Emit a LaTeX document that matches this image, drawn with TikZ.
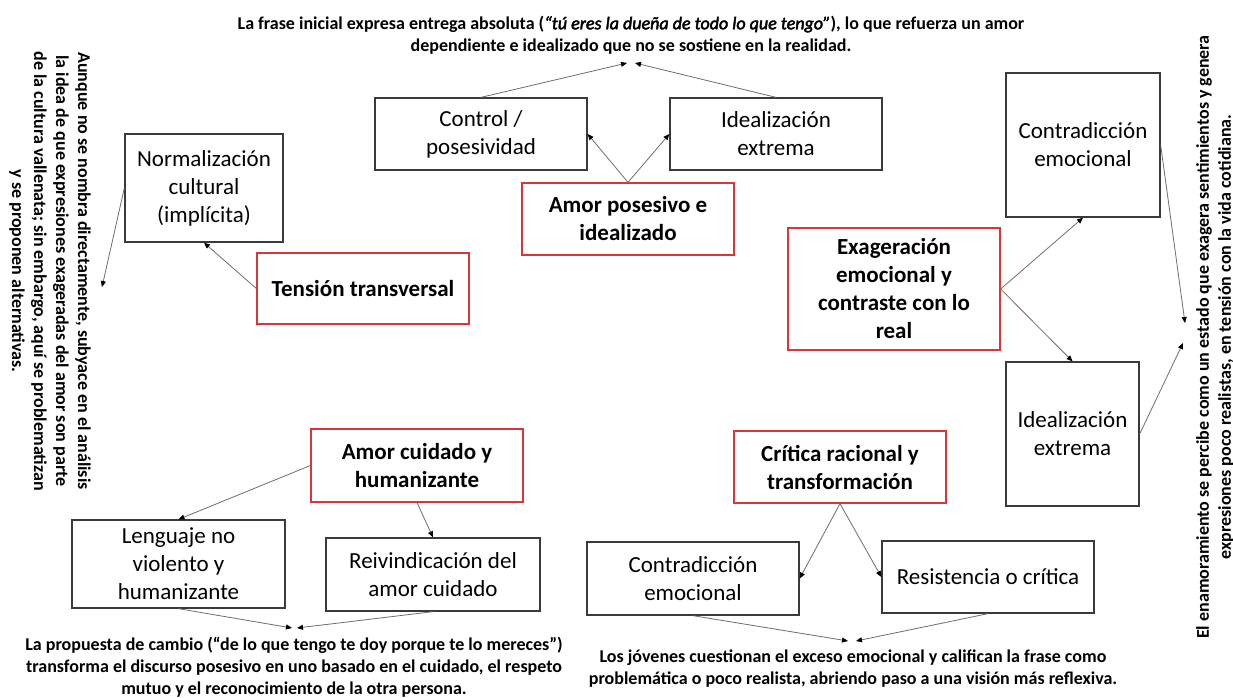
\documentclass[tikz,border=0pt]{standalone}
\usepackage{fontspec}
\setmainfont{Carlito}
\newfontfamily\bitfont{Carlito}[ItalicFeatures={FakeBold=2.5}]
\usetikzlibrary{arrows.meta}
\definecolor{boxgray}{HTML}{3A3A3A}
\definecolor{boxred}{HTML}{D9363C}
\definecolor{linegray}{HTML}{6E6E6E}
\tikzset{
  box/.style={draw=boxgray, line width=1.3pt, minimum width=212pt, minimum height=72pt,
    inner sep=0pt, align=center, font=\fontsize{23}{28}\selectfont},
  redbox/.style={box, draw=boxred, font=\fontsize{23}{28}\selectfont\bfseries},
  note/.style={inner sep=0pt, align=center, font=\fontsize{18}{22}\selectfont\bfseries},
  conn/.style={draw=linegray, line width=0.8pt, -{Triangle[length=6pt,width=5pt,color=black]}}
}
\begin{document}
\begin{tikzpicture}[x=1pt,y=-1pt]
\fill[white] (0,0) rectangle (1233,697);
\useasboundingbox (0,0) rectangle (1233,697);

% boxes
\node[box] (ctrl) at (481,134) {Control /\\posesividad};
\node[box] (ideal1) at (776,134) {Idealización\\extrema};
\node[redbox] (amorpos) at (628,219) {Amor posesivo e\\idealizado};
\node[box, minimum width=158pt, minimum height=108pt] (norm) at (204,188) {Normalización\\cultural\\(implícita)};
\node[redbox, minimum height=71pt] (tension) at (363,288.5) {Tensión transversal};
\node[box, minimum width=154pt, minimum height=144pt] (contra1) at (1083,145) {Contradicción\\emocional};
\node[redbox, minimum height=122pt] (exag) at (894,289) {Exageración\\emocional y\\contraste con lo\\real};
\node[box, minimum width=133pt, minimum height=144pt] (ideal2) at (1072.5,434) {Idealización\\extrema};
\node[redbox, minimum height=73pt] (amorcui) at (417,465.5) {Amor cuidado y\\humanizante};
\node[box, minimum width=213pt, minimum height=88pt] (leng) at (178.5,564) {Lenguaje no\\violento y\\humanizante};
\node[box, minimum width=214pt, minimum height=73pt] (reiv) at (433,574.5) {Reivindicación del\\amor cuidado};
\node[redbox] (critica) at (840,467) {Crítica racional y\\transformación};
\node[box, minimum height=73pt] (contra2) at (693,578.5) {Contradicción\\emocional};
\node[box] (resis) at (988,577) {Resistencia o crítica};

% notes
\node[note] (top) at (631,35) {La frase inicial expresa entrega absoluta ({\bitfont\mdseries\itshape “tú eres la dueña de todo lo que tengo”}), lo que refuerza un amor\\dependiente e idealizado que no se sostiene en la realidad.};
\node[note, rotate=-90] (left) at (50,271) {Aunque no se nombra directamente, subyace en el análisis\\la idea de que expresiones exageradas del amor son parte\\de la cultura vallenata; sin embargo, aquí se problematizan\\y se proponen alternativas.};
\node[note, rotate=90] (right) at (1215,337) {El enamoramiento se percibe como un estado que exagera sentimientos y genera\\expresiones poco realistas, en tensión con la vida cotidiana.};
\node[note] (botl) at (294,667) {La propuesta de cambio (“de lo que tengo te doy porque te lo mereces”)\\transforma el discurso posesivo en uno basado en el cuidado, el respeto\\mutuo y el reconocimiento de la otra persona.};
\node[note] (botr) at (853,668.5) {Los jóvenes cuestionan el exceso emocional y califican la frase como\\problemática o poco realista, abriendo paso a una visión más reflexiva.};

% free arrow ends
\coordinate (t1) at (627,63);
\coordinate (t2) at (635,63);
\coordinate (tl) at (102,287);
\coordinate (tr1) at (1185,323);
\coordinate (tr2) at (1183,343);
\coordinate (bl1) at (292,628);
\coordinate (bl2) at (297,628);
\coordinate (br1) at (848,641);
\coordinate (br2) at (856,641);

% connectors
\draw[conn] (ctrl.north) -- (t1);
\draw[conn] (ideal1.north) -- (t2);
\draw[conn] (amorpos.north) -- (ctrl.east);
\draw[conn] (amorpos.north) -- (ideal1.west);
\draw[conn] (tension.west) -- (norm.south);
\draw[conn] (norm.west) -- (tl);
\draw[conn] (exag.east) -- (contra1.south);
\draw[conn] (exag.east) -- (ideal2.north);
\draw[conn] (contra1.east) -- (tr1);
\draw[conn] (ideal2.east) -- (tr2);
\draw[conn] (amorcui.west) -- (leng.north);
\draw[conn] (amorcui.south) -- (reiv.north);
\draw[conn] (leng.south) -- (bl1);
\draw[conn] (reiv.south) -- (bl2);
\draw[conn] (critica.south) -- (contra2.east);
\draw[conn] (critica.south) -- (resis.west);
\draw[conn] (contra2.south) -- (br1);
\draw[conn] (resis.south) -- (br2);
\end{tikzpicture}
\end{document}
